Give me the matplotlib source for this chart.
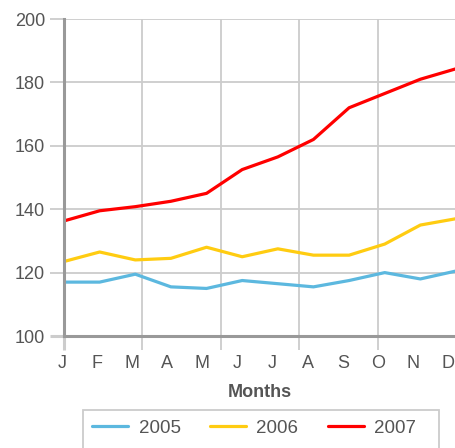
import matplotlib
matplotlib.use("Agg")
import matplotlib.pyplot as plt
import matplotlib.transforms as mtransforms
from matplotlib.patches import Rectangle
import numpy as np

months = ["J", "F", "M", "A", "M", "J", "J", "A", "S", "O", "N", "D"]
series_names = ["2005", "2006", "2007"]
v2005 = [117, 117, 119.5, 115.5, 115, 117.5, 116.5, 115.5, 117.5, 120, 118, 120.5]
v2006 = [123.5, 126.5, 124, 124.5, 128, 125, 127.5, 125.5, 125.5, 129, 135, 137]
v2007 = [136.3, 139.5, 140.8, 142.5, 145, 152.5, 156.5, 162, 172, 176.5, 181, 184.3]
y_ticks = [100, 120, 140, 160, 180, 200]
x_title = "Months"

colors = ["#5cb8df", "#ffcc11", "#ff0000"]
plt.rcParams['font.family'] = ['Liberation Sans', 'DejaVu Sans']

W, H = 456, 448
fig = plt.figure(figsize=(W / 100, H / 100), dpi=100)
ax = fig.add_axes([64 / W, 1 - 336 / H, (456 - 64) / W, (336 - 19) / H])

x = np.arange(len(months))
for vals, name, c in zip([v2005, v2006, v2007], series_names, colors):
    ax.plot(x, vals, color=c, lw=2.3, label=name, solid_joinstyle='round',
            solid_capstyle='round', zorder=3)

ax.set_xlim(0, len(months) - 1)
ax.set_ylim(y_ticks[0], y_ticks[-1])

grid_c = "#cccccc"
spine_c = "#999999"
text_c = "#555555"

ax.set_xticks(np.linspace(0, len(months) - 1, 6))
ax.set_xticklabels([])
ax.set_yticks(y_ticks)
ax.set_yticklabels([str(v) for v in y_ticks])

ax.grid(True, which='major', color=grid_c, lw=1.3, zorder=0)
ax.tick_params(axis='x', which='major', length=10, width=1.3, color=grid_c, direction='out')
ax.tick_params(axis='y', which='major', length=10, width=1.3, color=grid_c, direction='out',
               pad=3.6, labelsize=13, labelcolor=text_c)

# month labels, slightly compressed towards the left as in the reference
xform = ax.get_xaxis_transform()
for i, m in enumerate(months):
    off = mtransforms.ScaledTranslation((-2 - i * 6 / 11) / 100, -27 / 100, fig.dpi_scale_trans)
    ax.text(i, 0, m, transform=xform + off, ha='center', va='center', fontsize=13,
            color=text_c, clip_on=False)

ax.xaxis.get_major_ticks()[0].tick1line.set_color(spine_c)
ax.xaxis.get_major_ticks()[0].tick1line.set_markeredgewidth(2.2)
ax.yaxis.get_major_ticks()[0].tick1line.set_color(spine_c)
ax.yaxis.get_major_ticks()[0].tick1line.set_markeredgewidth(2.2)

for s in ['top', 'right']:
    ax.spines[s].set_visible(False)
for s in ['left', 'bottom']:
    ax.spines[s].set_color(spine_c)
    ax.spines[s].set_linewidth(2.2)
    ax.spines[s].set_zorder(4)

fig.text(260 / W, 1 - 392 / H, x_title, ha='center', va='center', fontsize=13,
         fontweight='bold', color=text_c)

fig.patches.append(Rectangle((83 / W, -0.05), (439 - 83) / W, (1 - 410 / H) + 0.05,
                             transform=fig.transFigure, fill=False, edgecolor=grid_c,
                             lw=1.3))
leg = fig.legend(loc='center left', bbox_to_anchor=(86 / W, 1 - 428 / H), ncol=3,
                 fontsize=13.5, frameon=False,
                 handlelength=1.95, handletextpad=0.55, columnspacing=1.55,
                 borderpad=0.3, borderaxespad=0)
for t in leg.get_texts():
    t.set_color(text_c)
for l in leg.get_lines():
    l.set_linewidth(2.3)

fig.savefig("out.png", dpi=100)
